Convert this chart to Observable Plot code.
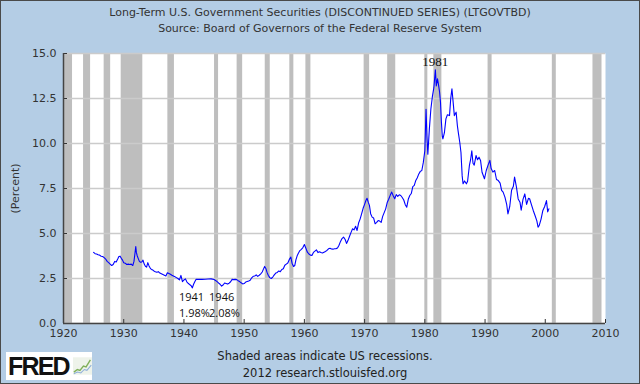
<!DOCTYPE html>
<html>
<head>
<meta charset="utf-8">
<script src="https://cdn.jsdelivr.net/npm/d3@7"></script>
<script src="https://cdn.jsdelivr.net/npm/@observablehq/plot@0.6"></script>
<style>
  html, body { margin: 0; padding: 0; background: #b4cde5; }
  #wrap { position: relative; width: 640px; height: 384px; background: #b4cde5; overflow: hidden;
          font-family: "DejaVu Sans", Verdana, sans-serif; color: #333; }
  #title { height: 40px; box-sizing: border-box; padding-top: 5px; text-align: center; font-size: 11px; line-height: 16px; }
  #chart { height: 305px; }
  #chart svg { display: block; }
  #footer { position: relative; height: 39px; box-sizing: border-box; padding-top: 3px; text-align: center; font-size: 11.5px; line-height: 17px; color: #222; }
  #footer .lines { padding-left: 10px; }
  #logo { position: absolute; left: 6px; top: 7px; width: 86px; height: 28px; background: #fff; display: flex; align-items: center; }
  #logo span { font-family: "Liberation Sans", Arial, sans-serif; font-weight: bold; font-size: 25px; letter-spacing: -1.8px; color: #111; margin-left: 2px; line-height: 28px; }
  #border { position: absolute; inset: 0; border: 1px solid #4a4a4a; pointer-events: none; }
</style>
</head>
<body>
<div id="wrap">
  <div id="title">
    <div>Long-Term U.S. Government Securities (DISCONTINUED SERIES) (LTGOVTBD)</div>
    <div>Source: Board of Governors of the Federal Reserve System</div>
  </div>
  <div id="chart"></div>
  <div id="footer">
    <div class="lines">
      <div>Shaded areas indicate US recessions.</div>
      <div>2012 research.stlouisfed.org</div>
    </div>
    <div id="logo"><span>FRED</span>
      <svg width="20" height="20" viewBox="0 0 22 20" style="margin-left:4px">
        <rect x="0" y="0" width="22" height="20" fill="#eef3ea"/>
        <polyline points="1,17 5,14 8,15 12,10 15,11 20,3" fill="none" stroke="#7fb05a" stroke-width="1.6"/>
        <polyline points="1,19 5,17 9,18 13,14 16,15 21,9" fill="none" stroke="#8fb0d8" stroke-width="1.2"/>
      </svg>
    </div>
  </div>
  <div id="border"></div>
</div>
<script>
// Readings of the series (decimal year, percent)
const dates = [
  1925.0,1925.25,1925.5,1925.75,1926.0,1926.25,1926.5,1926.75,1927.0,1927.25,1927.5,1927.75,
  1928.0,1928.25,1928.5,1928.75,1929.0,1929.2,1929.4,1929.6,1929.8,
  1930.0,1930.25,1930.5,1930.75,1931.0,1931.25,1931.5,1931.7,1931.85,
  1932.0,1932.1,1932.25,1932.4,1932.6,1932.8,1933.0,1933.2,1933.4,1933.6,1933.8,
  1934.0,1934.2,1934.4,1934.6,1934.8,1935.0,1935.25,1935.5,1935.75,
  1936.0,1936.25,1936.5,1936.75,1937.0,1937.25,1937.5,1937.75,
  1938.0,1938.25,1938.5,1938.75,1939.0,1939.25,1939.5,1939.75,
  1940.0,1940.25,1940.5,1940.75,1941.0,1941.2,1941.4,1941.6,1941.8,
  1942.0,1942.5,1943.0,1943.5,1944.0,1944.5,1945.0,1945.3,1945.6,1945.85,
  1946.0,1946.25,1946.5,1946.75,1947.0,1947.25,1947.5,1947.75,
  1948.0,1948.25,1948.5,1948.75,1949.0,1949.25,1949.5,1949.75,
  1950.0,1950.25,1950.5,1950.75,1951.0,1951.25,1951.5,1951.75,
  1952.0,1952.25,1952.5,1952.75,1953.0,1953.2,1953.4,1953.6,1953.8,
  1954.0,1954.25,1954.5,1954.75,1955.0,1955.25,1955.5,1955.75,
  1956.0,1956.25,1956.5,1956.75,1957.0,1957.25,1957.5,1957.75,1957.95,
  1958.2,1958.4,1958.6,1958.8,1959.0,1959.25,1959.5,1959.75,
  1960.0,1960.25,1960.5,1960.75,1961.0,1961.25,1961.5,1961.75,
  1962.0,1962.25,1962.5,1962.75,1963.0,1963.25,1963.5,1963.75,
  1964.0,1964.25,1964.5,1964.75,1965.0,1965.25,1965.5,1965.75,
  1966.0,1966.25,1966.5,1966.75,1967.0,1967.25,1967.5,1967.75,
  1968.0,1968.25,1968.5,1968.75,1969.0,1969.25,1969.5,1969.75,
  1970.0,1970.2,1970.4,1970.6,1970.8,1971.0,1971.25,1971.5,1971.75,
  1972.0,1972.25,1972.5,1972.75,1973.0,1973.25,1973.5,1973.75,
  1974.0,1974.25,1974.5,1974.75,1975.0,1975.25,1975.5,1975.75,
  1976.0,1976.25,1976.5,1976.75,1977.0,1977.25,1977.5,1977.75,
  1978.0,1978.25,1978.5,1978.75,1979.0,1979.25,1979.5,1979.75,
  1980.0,1980.2,1980.35,1980.5,1980.75,1981.0,1981.25,1981.5,1981.75,1981.9,
  1982.1,1982.3,1982.45,1982.6,1982.75,1982.9,1983.0,1983.25,1983.5,1983.75,
  1984.1,1984.3,1984.5,1984.7,1984.9,1985.2,1985.4,1985.55,1985.8,
  1986.0,1986.2,1986.35,1986.6,1986.9,1987.1,1987.4,1987.6,1987.8,
  1988.0,1988.2,1988.5,1988.75,1989.0,1989.25,1989.5,1989.9,
  1990.2,1990.5,1990.8,1991.0,1991.3,1991.6,1991.9,1992.2,1992.5,1992.75,
  1993.0,1993.3,1993.6,1993.8,1994.1,1994.4,1994.7,1994.9,
  1995.2,1995.5,1995.8,1996.0,1996.3,1996.6,1996.9,1997.2,1997.4,1997.7,
  1998.0,1998.3,1998.6,1998.8,1999.0,1999.3,1999.6,1999.9,2000.2,2000.4,2000.6
];
const yields = [
  3.95,3.88,3.86,3.82,3.80,3.74,3.72,3.66,3.58,3.45,3.38,3.30,
  3.22,3.28,3.45,3.42,3.58,3.72,3.74,3.62,3.52,
  3.37,3.35,3.28,3.30,3.28,3.30,3.22,3.45,3.85,
  4.28,3.95,3.75,3.62,3.45,3.40,3.42,3.52,3.30,3.18,3.13,
  3.38,3.20,3.08,3.00,2.98,2.92,2.88,2.85,2.88,
  2.80,2.76,2.72,2.68,2.64,2.82,2.78,2.74,
  2.68,2.64,2.60,2.55,2.50,2.42,2.67,2.32,
  2.42,2.48,2.30,2.22,2.15,2.10,1.98,2.18,2.32,
  2.45,2.46,2.45,2.46,2.47,2.48,2.44,2.38,2.30,2.22,
  2.18,2.08,2.14,2.25,2.22,2.19,2.24,2.32,
  2.45,2.44,2.45,2.44,2.38,2.33,2.26,2.20,
  2.22,2.30,2.33,2.36,2.40,2.54,2.62,2.64,
  2.70,2.62,2.68,2.76,2.86,3.02,3.17,3.06,2.84,
  2.68,2.55,2.50,2.58,2.70,2.80,2.84,2.92,
  2.88,3.00,3.04,3.24,3.30,3.36,3.56,3.69,3.35,
  3.17,3.22,3.55,3.76,3.90,4.05,4.12,4.22,
  4.39,4.18,3.96,3.86,3.80,3.78,3.95,4.02,
  4.09,3.94,3.98,3.94,3.92,3.96,4.00,4.06,
  4.15,4.18,4.14,4.13,4.15,4.16,4.19,4.35,
  4.56,4.72,4.80,4.68,4.45,4.62,4.85,5.06,
  5.26,5.20,5.40,5.17,5.58,5.80,6.09,6.40,
  6.62,6.82,6.96,6.74,6.56,6.10,5.91,5.86,5.54,
  5.62,5.72,5.69,5.62,5.95,6.16,6.37,6.72,
  6.90,7.12,7.30,7.10,6.93,7.16,7.06,7.15,
  7.11,7.00,6.86,6.60,6.46,6.90,7.11,7.22,
  7.60,7.67,7.95,8.10,8.31,8.45,8.50,8.95,
  9.60,11.90,10.40,9.40,10.80,11.90,12.60,13.10,14.10,13.20,
  13.60,13.20,12.85,12.30,11.20,10.40,10.26,10.60,11.37,11.60,
  11.55,12.50,13.04,12.30,11.55,11.74,11.00,10.63,10.07,
  9.50,8.20,7.76,7.92,7.76,7.90,8.78,9.10,9.60,
  8.90,8.80,9.33,9.10,9.24,9.06,8.40,8.04,
  8.50,8.80,9.06,8.62,8.41,8.50,8.00,7.94,7.80,7.40,
  7.30,7.02,6.60,6.09,6.50,7.40,7.62,8.13,
  7.60,6.92,6.74,6.30,6.90,7.20,6.62,6.95,6.93,6.60,
  6.28,6.00,5.70,5.35,5.45,5.80,6.28,6.50,6.83,6.20,6.37
];

// NBER recessions (decimal years)
const recessionStart = [1920.0,1923.33,1926.75,1929.58,1937.33,1945.08,1948.83,1953.5,1957.58,1960.25,1969.92,1973.83,1980.0,1981.5,1990.5,2001.17,2007.92];
const recessionEnd   = [1921.5,1924.5,1927.83,1933.17,1938.42,1945.75,1949.75,1954.33,1958.25,1961.08,1970.83,1975.17,1980.5,1982.83,1991.17,2001.83,2009.42];

const xTicks = [1920,1930,1940,1950,1960,1970,1980,1990,2000,2010];
const yTicks = [0,2.5,5,7.5,10,12.5,15];

// Annotations
const lowYears = [1941, 1946];
const lowLabels = ["1941\n1.98%", "1946\n2.08%"];
const peakYears = [1981.75];
const peakLabels = ["1981"];

const series = dates.map((t, i) => ({t, v: yields[i]}));
const recessions = recessionStart.map((s, i) => ({s, e: recessionEnd[i]}));
const lows = lowYears.map((t, i) => ({t, label: lowLabels[i]}));
const peaks = peakYears.map((t, i) => ({t, label: peakLabels[i]}));

const chart = Plot.plot({
  width: 640,
  height: 305,
  marginLeft: 63,
  marginRight: 35,
  marginTop: 13,
  marginBottom: 22,
  style: {background: "transparent", fontFamily: "DejaVu Sans, Verdana, sans-serif", fontSize: "11px", color: "#333"},
  x: {domain: [1920, 2010]},
  y: {domain: [0, 15]},
  marks: [
    Plot.frame({fill: "white", stroke: null}),
    Plot.rect(recessions, {x1: "s", x2: "e", fill: "#bebebe"}),
    Plot.gridY(yTicks, {stroke: "#cbcbcb", strokeOpacity: 1, strokeWidth: 1.5}),
    Plot.lineY(series, {x: "t", y: "v", stroke: "#0000ff", strokeWidth: 1.1}),
    Plot.axisX(xTicks, {tickSize: -4, tickPadding: 10, tickFormat: d => String(d), label: null, stroke: "#333", fill: "#333"}),
    Plot.axisY(yTicks, {tickSize: -4, tickPadding: 11, tickFormat: d => d.toFixed(1), label: "(Percent)", labelAnchor: "center", labelOffset: 52, labelArrow: "none", stroke: "#333", fill: "#333"}),
    Plot.ruleX([1920], {stroke: "#444", strokeWidth: 1.5}),
    Plot.ruleY([0], {stroke: "#444", strokeWidth: 1.5}),
    Plot.text(lows, {x: "t", text: "label", frameAnchor: "bottom", textAnchor: "start", lineAnchor: "bottom", dx: -11, dy: -7, lineHeight: 1.45, fontSize: 11, fontFamily: "Open Sans, sans-serif", fill: "#111"}),
    Plot.text(peaks, {x: "t", text: "label", frameAnchor: "top", lineAnchor: "top", dy: 3, fontSize: 13, fontFamily: "Liberation Serif, serif", fill: "#111"})
  ]
});
document.getElementById("chart").appendChild(chart);
</script>
</body>
</html>
